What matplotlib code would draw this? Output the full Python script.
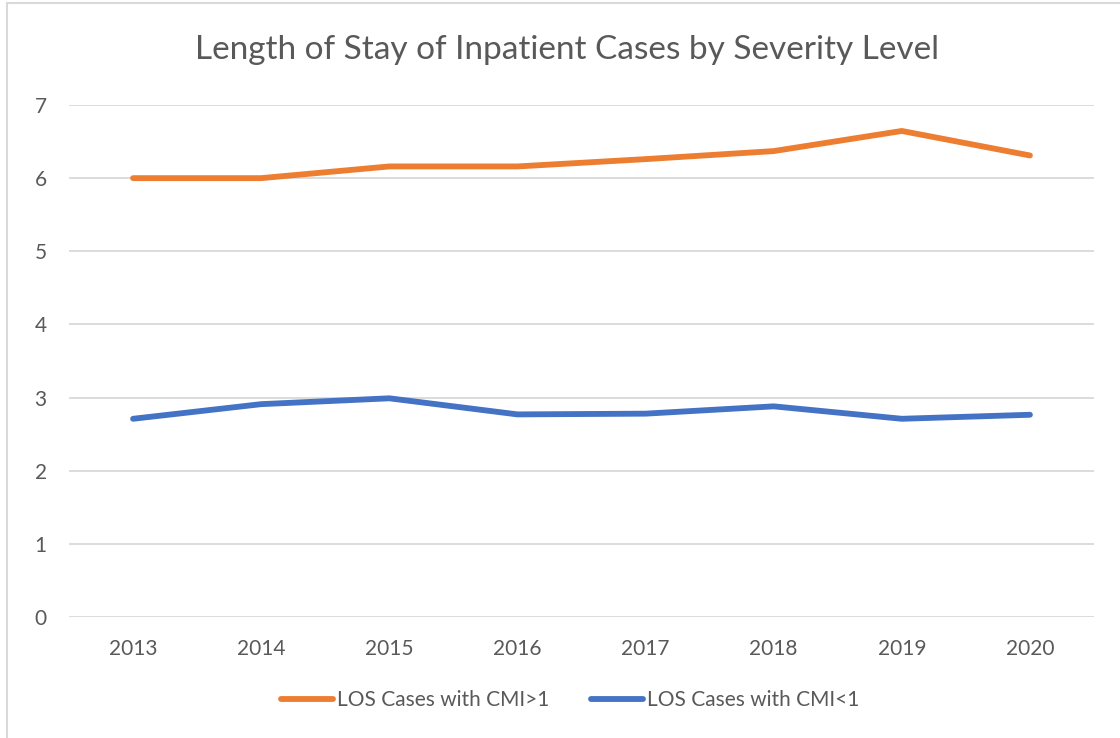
import matplotlib.pyplot as plt
from matplotlib.patches import Rectangle

years = ["2013", "2014", "2015", "2016", "2017", "2018", "2019", "2020"]
cmi_high = [6.0, 6.0, 6.16, 6.16, 6.26, 6.37, 6.645, 6.31]
cmi_low = [2.71, 2.91, 2.99, 2.77, 2.78, 2.88, 2.71, 2.765]

plt.rcParams['font.family'] = ['Lato', 'DejaVu Sans']
grey = "#595959"

fig = plt.figure(figsize=(11.2, 7.38), dpi=100)
# outer chart border (partly cropped in reference)
fig.patches.append(Rectangle((7/1120, -0.05), 1.2, 1 - 3/738 + 0.05, transform=fig.transFigure,
                             fill=False, edgecolor="#D9D9D9", linewidth=1.5))

ax = fig.add_axes([69/1120, 1 - 617/738, (1094 - 69)/1120, (617 - 105)/738])
x = range(len(years))
ax.plot(x, cmi_high, color="#ED7D31", linewidth=4.2, solid_capstyle="round",
        label="LOS Cases with CMI>1")
ax.plot(x, cmi_low, color="#4472C4", linewidth=4.2, solid_capstyle="round",
        label="LOS Cases with CMI<1")

ax.set_xlim(-0.5, len(years) - 0.5)
ax.set_ylim(0, 7)
ax.set_yticks(range(0, 8))
ax.set_xticks(list(x))
ax.set_xticklabels(years)
ax.grid(axis="y", color="#D9D9D9", linewidth=1.3)
ax.set_axisbelow(True)
for s in ax.spines.values():
    s.set_visible(False)
ax.tick_params(length=0, colors=grey, labelsize=15)
ax.tick_params(axis="y", pad=16)
ax.tick_params(axis="x", pad=16)

fig.text(567/1120, 1 - 50/738, "Length of Stay of Inpatient Cases by Severity Level",
         ha="center", va="center", fontsize=24, color=grey)

ax.legend(loc="center", bbox_to_anchor=(570/1120, 1 - 700/738), bbox_transform=fig.transFigure,
          ncol=2, frameon=False, fontsize=15, labelcolor=grey, handlelength=2.5,
          handletextpad=0.2, columnspacing=2.0)

fig.savefig("out.png", dpi=100)
